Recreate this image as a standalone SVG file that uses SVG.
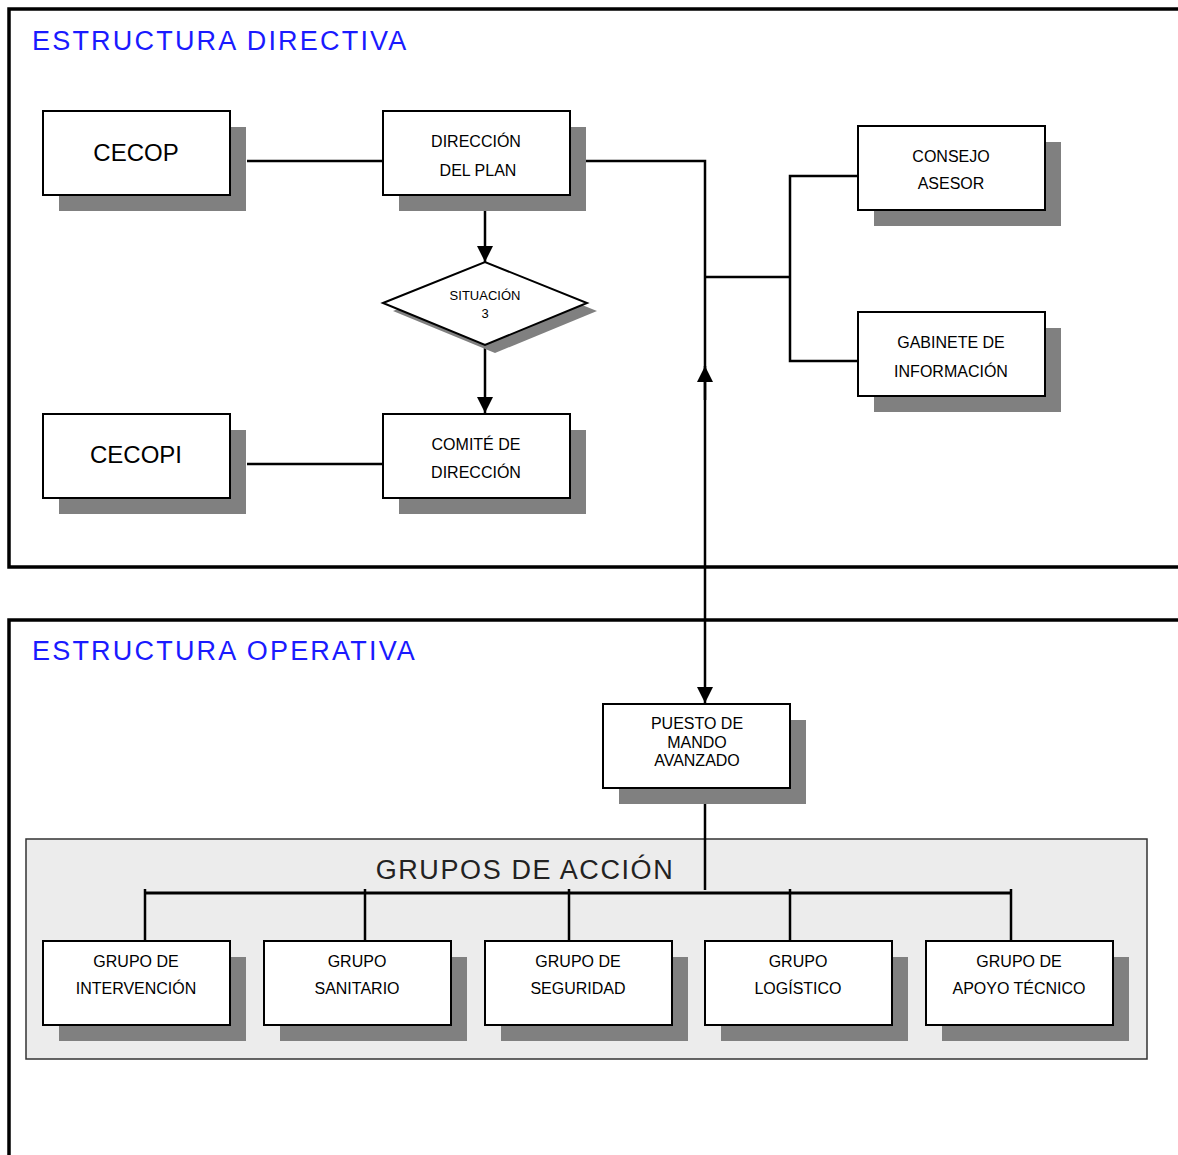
<svg xmlns="http://www.w3.org/2000/svg" width="1178" height="1155" viewBox="0 0 1178 1155">
<style>
.frame{fill:none;stroke:#000;stroke-width:3.5}
.title{font-family:"Liberation Sans",Arial,sans-serif;font-size:27px;fill:#1a1aff;letter-spacing:2.2px}
.box{fill:#fff;stroke:#000;stroke-width:2}
.sh{fill:#808080}
.t{font-family:"Liberation Sans",Arial,sans-serif;font-size:16px;fill:#000;text-anchor:middle}
.big{font-size:24px}
.small{font-size:13px}
.ln{fill:none;stroke:#000;stroke-width:2.5}
.thick{stroke-width:3}
</style>
<defs>
<marker id="ah" markerUnits="userSpaceOnUse" markerWidth="16" markerHeight="16" refX="16" refY="8" orient="auto">
<path d="M0,0 L16,8 L0,16 z" fill="#000"/>
</marker>
</defs>
<rect width="1178" height="1155" fill="#fff"/>
<path class="frame" d="M1180,9 H9 V567 H1180"/>
<path class="frame" d="M1180,620 H9 V1160"/>
<text class="title" x="32" y="50">ESTRUCTURA DIRECTIVA</text>
<text class="title" x="32" y="660">ESTRUCTURA OPERATIVA</text>
<g id="grupos-accion">
<rect x="26" y="839" width="1121" height="220" fill="#ececec" stroke="#333" stroke-width="1.5"/>
<text x="525" y="879" style="font-family:'Liberation Sans',Arial,sans-serif;font-size:27px;fill:#222;letter-spacing:1.6px;text-anchor:middle">GRUPOS DE ACCIÓN</text>
</g>
<g id="connectors">
<line class="ln" x1="247" y1="161" x2="383" y2="161"/>
<line class="ln" x1="247" y1="464" x2="383" y2="464"/>
<path class="ln" d="M586,161 H705 V703" marker-end="url(#ah)"/>
<path class="ln" d="M705,400 V366" marker-end="url(#ah)"/>
<path class="ln" d="M705,277 H790"/>
<path class="ln" d="M858,176 H790 V361 H858"/>
<path class="ln" d="M485,211 V262" marker-end="url(#ah)"/>
<path class="ln" d="M485,345 V413" marker-end="url(#ah)"/>
<path class="ln" d="M705,804 V890"/>
<path class="ln thick" d="M145,893 H1011"/>
<path class="ln" d="M145,889 V941 M365,889 V941 M569,889 V941 M790,889 V941 M1011,889 V941"/>
</g>
<g id="cecop">
<rect class="sh" x="59" y="127" width="187" height="84"/>
<rect class="box" x="43" y="111" width="187" height="84"/>
<text class="t big" x="136" y="161">CECOP</text>
</g>
<g id="direccion-plan">
<rect class="sh" x="399" y="127" width="187" height="84"/>
<rect class="box" x="383" y="111" width="187" height="84"/>
<text class="t" x="476" y="147">DIRECCIÓN</text>
<text class="t" x="478" y="176">DEL PLAN</text>
</g>
<g id="situacion-3">
<polygon class="sh" points="393,311 495,270 597,311 495,353"/>
<polygon class="box" points="383,303 485,262 587,303 485,345"/>
<text class="t small" x="485" y="300">SITUACIÓN</text>
<text class="t small" x="485" y="318">3</text>
</g>
<g id="cecopi">
<rect class="sh" x="59" y="430" width="187" height="84"/>
<rect class="box" x="43" y="414" width="187" height="84"/>
<text class="t big" x="136" y="463">CECOPI</text>
</g>
<g id="comite-direccion">
<rect class="sh" x="399" y="430" width="187" height="84"/>
<rect class="box" x="383" y="414" width="187" height="84"/>
<text class="t" x="476" y="450">COMITÉ DE</text>
<text class="t" x="476" y="478">DIRECCIÓN</text>
</g>
<g id="consejo-asesor">
<rect class="sh" x="874" y="142" width="187" height="84"/>
<rect class="box" x="858" y="126" width="187" height="84"/>
<text class="t" x="951" y="162">CONSEJO</text>
<text class="t" x="951" y="189">ASESOR</text>
</g>
<g id="gabinete-informacion">
<rect class="sh" x="874" y="328" width="187" height="84"/>
<rect class="box" x="858" y="312" width="187" height="84"/>
<text class="t" x="951" y="348">GABINETE DE</text>
<text class="t" x="951" y="377">INFORMACIÓN</text>
</g>
<g id="puesto-mando">
<rect class="sh" x="619" y="720" width="187" height="84"/>
<rect class="box" x="603" y="704" width="187" height="84"/>
<text class="t" x="697" y="729">PUESTO DE</text>
<text class="t" x="697" y="748">MANDO</text>
<text class="t" x="697" y="766">AVANZADO</text>
</g>
<g id="grupo-intervencion">
<rect class="sh" x="59" y="957" width="187" height="84"/>
<rect class="box" x="43" y="941" width="187" height="84"/>
<text class="t" x="136" y="967">GRUPO DE</text>
<text class="t" x="136" y="994">INTERVENCIÓN</text>
</g>
<g id="grupo-sanitario">
<rect class="sh" x="280" y="957" width="187" height="84"/>
<rect class="box" x="264" y="941" width="187" height="84"/>
<text class="t" x="357" y="967">GRUPO</text>
<text class="t" x="357" y="994">SANITARIO</text>
</g>
<g id="grupo-seguridad">
<rect class="sh" x="501" y="957" width="187" height="84"/>
<rect class="box" x="485" y="941" width="187" height="84"/>
<text class="t" x="578" y="967">GRUPO DE</text>
<text class="t" x="578" y="994">SEGURIDAD</text>
</g>
<g id="grupo-logistico">
<rect class="sh" x="721" y="957" width="187" height="84"/>
<rect class="box" x="705" y="941" width="187" height="84"/>
<text class="t" x="798" y="967">GRUPO</text>
<text class="t" x="798" y="994">LOGÍSTICO</text>
</g>
<g id="grupo-apoyo-tecnico">
<rect class="sh" x="942" y="957" width="187" height="84"/>
<rect class="box" x="926" y="941" width="187" height="84"/>
<text class="t" x="1019" y="967">GRUPO DE</text>
<text class="t" x="1019" y="994">APOYO TÉCNICO</text>
</g>
</svg>
